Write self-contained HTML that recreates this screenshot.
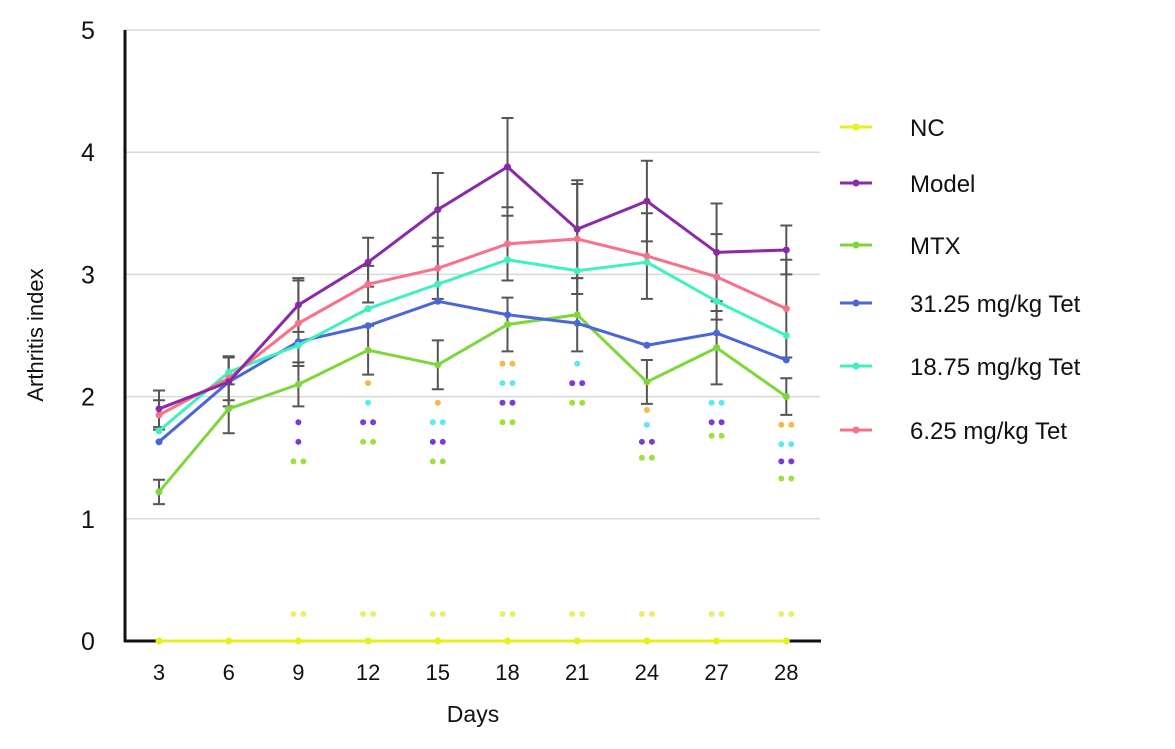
<!DOCTYPE html>
<html><head><meta charset="utf-8"><style>
body{margin:0;background:#fff;}
svg text{font-family:"Liberation Sans",Arial,sans-serif;}
</style></head><body>
<svg id="chart" width="1175" height="744" viewBox="0 0 1175 744" xmlns="http://www.w3.org/2000/svg">
<g id="grid"></g><g id="axes"></g><g id="series"></g><g id="stars"></g><g id="legend"></g>
</svg>
<script>
const categories=["3","6","9","12","15","18","21","24","27","28"];
const yTicks=[0,1,2,3,4,5];
const seriesNames=["NC","Model","MTX","31.25 mg/kg Tet","18.75 mg/kg Tet","6.25 mg/kg Tet"];
const seriesColors=["#e6f01e","#8a2aa8","#7ed63a","#4a66d8","#40f0c0","#f8708a"];
const ncVals=[0,0,0,0,0,0,0,0,0,0];
const modelVals=[1.9,2.12,2.75,3.1,3.53,3.88,3.37,3.6,3.18,3.2];
const mtxVals=[1.22,1.9,2.1,2.38,2.26,2.59,2.67,2.12,2.4,2.0];
const t3125Vals=[1.63,2.12,2.45,2.58,2.78,2.67,2.6,2.42,2.52,2.3];
const t1875Vals=[1.72,2.2,2.42,2.72,2.92,3.12,3.03,3.1,2.78,2.5];
const t625Vals=[1.85,2.15,2.6,2.92,3.05,3.25,3.29,3.15,2.98,2.72];
const modelErr=[0.15,0.2,0.22,0.2,0.3,0.4,0.4,0.33,0.4,0.2];
const mtxErr=[0.1,0.2,0.18,0.2,0.2,0.22,0.3,0.18,0.3,0.15];
const t625Err=[0.12,0.18,0.35,0.15,0.25,0.3,0.45,0.35,0.35,0.4];
// significance markers per category: [seriesIndex(color), count, yValue]
const sigMarks=[
 [],[],
 [[1,1,1.79],[1,1,1.63],[2,2,1.47]],
 [[5,1,2.11],[4,1,1.95],[1,2,1.79],[2,2,1.63]],
 [[5,1,1.95],[4,2,1.79],[1,2,1.63],[2,2,1.47]],
 [[5,2,2.27],[4,2,2.11],[1,2,1.95],[2,2,1.79]],
 [[4,1,2.27],[1,2,2.11],[2,2,1.95]],
 [[5,1,1.89],[4,1,1.77],[1,2,1.63],[2,2,1.50]],
 [[4,2,1.95],[1,2,1.79],[2,2,1.68]],
 [[5,2,1.77],[4,2,1.61],[1,2,1.47],[2,2,1.33]]
];
const ncSig=[0,0,2,2,2,2,2,2,2,2];
const NS="http://www.w3.org/2000/svg";
const x0=159,dx=69.7,yBase=641,yUnit=122.2;
const X=i=>x0+i*dx, Y=v=>yBase-v*yUnit;
function mk(tag,attrs,parent,txt){const e=document.createElementNS(NS,tag);for(const k in attrs)e.setAttribute(k,attrs[k]);if(txt!==undefined)e.textContent=txt;parent.appendChild(e);return e;}
const grid=document.getElementById('grid'),ser=document.getElementById('series'),stars=document.getElementById('stars'),axes=document.getElementById('axes'),leg=document.getElementById('legend');
yTicks.forEach(t=>{
 if(t>0){const g=mk('line',{x1:125,x2:820,y1:Y(t),y2:Y(t),stroke:'#d8d8d8','stroke-width':1.5},grid);
 
 }
 const l=mk('text',{x:88,y:Y(t)+9,'font-size':25,'text-anchor':'middle',fill:'#111'},axes,String(t));
 
 
});
categories.forEach((c,i)=>{
 const l=mk('text',{x:X(i),y:680,'font-size':22,'text-anchor':'middle',fill:'#111'},axes,c);
 
 
});
const ya=mk('line',{x1:125,x2:125,y1:30,y2:642,stroke:'#111','stroke-width':3},axes);


const xa=mk('line',{x1:124,x2:821,y1:641,y2:641,stroke:'#111','stroke-width':3},axes);


const yt=mk('text',{x:43,y:335,'font-size':22,'text-anchor':'middle',transform:'rotate(-90 43 335)',fill:'#111'},axes,'Arthritis index');


const xt=mk('text',{x:473,y:722,'font-size':23,'text-anchor':'middle',fill:'#111'},axes,'Days');


const allVals=[ncVals,modelVals,mtxVals,t3125Vals,t1875Vals,t625Vals];
const errs={1:modelErr,2:mtxErr,5:t625Err};
for(const s in errs){
 errs[s].forEach((e,i)=>{const v=allVals[s][i];
  const g=mk('path',{d:`M${X(i)} ${Y(v+e)}V${Y(v-e)}M${X(i)-6} ${Y(v+e)}h12M${X(i)-6} ${Y(v-e)}h12`,stroke:'#555','stroke-width':2,fill:'none'},ser);
  
  });
}
[2,3,4,5,1,0].forEach(s=>{
 const vals=allVals[s];
 const p=mk('polyline',{points:vals.map((v,i)=>X(i)+','+Y(v)).join(' '),fill:'none',stroke:seriesColors[s],'stroke-width':3},ser);
 
 
 vals.forEach((v,i)=>{const c=mk('circle',{cx:X(i),cy:Y(v),r:3.5,fill:seriesColors[s]},ser);
  
  });
});
const starCol=["#e8e84a","#7a3ad8","#9ee040","#4a66d8","#60e8f0","#f8b850"];
sigMarks.forEach((arr,i)=>{arr.forEach(m=>{const [s,n,v]=m;
 for(let k=0;k<n;k++){const c=mk('circle',{cx:X(i)+(n==2?(k?5:-5):0),cy:Y(v),r:3,fill:starCol[s]},stars);
  
  }
});});
ncSig.forEach((n,i)=>{for(let k=0;k<n;k++){const c=mk('circle',{cx:X(i)+(k?5:-5),cy:614,r:3,fill:'#ecec70'},stars);
 
 }});
const legY=[127,183,245,303,366,430];
seriesNames.forEach((n,s)=>{
 const g=mk('g',{},leg);
 
 
 mk('line',{x1:840,x2:872,y1:legY[s],y2:legY[s],stroke:seriesColors[s],'stroke-width':3},g);
 mk('circle',{cx:856,cy:legY[s],r:3.5,fill:seriesColors[s]},g);
 mk('text',{x:910,y:legY[s]+9,'font-size':24,fill:'#111'},g,n);
});
</script>
</body></html>
